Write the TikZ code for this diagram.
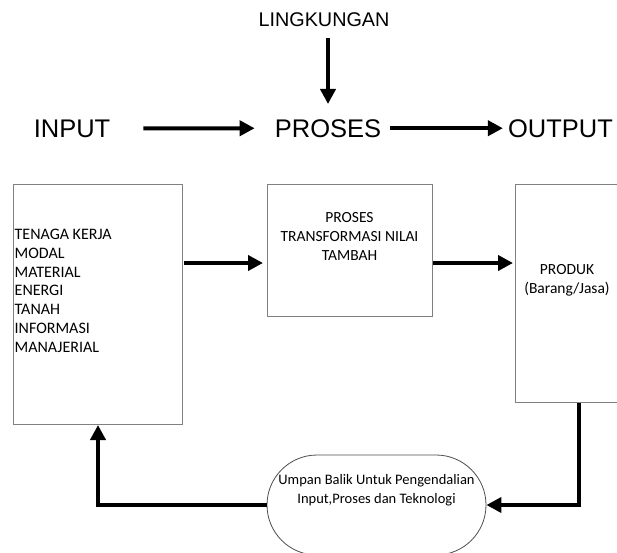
\documentclass[tikz,border=0pt]{standalone}
\usepackage{fontspec}
\setmainfont{Carlito}
\newfontfamily\arialfont{Liberation Sans}
\usetikzlibrary{arrows.meta}

\begin{document}
\begin{tikzpicture}[x=1pt, y=-1pt,
        box/.style={draw=black!50, line width=1pt, rectangle, inner sep=0pt, anchor=north west},
        bigarrow/.style={line width=4pt, -{Triangle[length=15pt,width=15pt]}},
        title/.style={font=\arialfont\fontsize{25.5}{30}\selectfont, inner sep=0pt, anchor=base},
        boxtext/.style={font=\fontsize{15.5}{18.9}\selectfont, inner sep=0pt}]
                    % Parameters
                    \def\topline{137} % Baseline of the top row
                    \def\boxtop{184} % Top edge of the three boxes
                    \def\flowy{263} % Height of the arrows between the boxes

                    \useasboundingbox (0,0) rectangle (617,552);
                    \clip (0,0) rectangle (617,552);

                    % Top row
                    \node[title] (input) at (72,\topline) {INPUT};
                    \node[title] (proses) at (328,\topline) {PROSES};
                    \node[title] (output) at (560.5,\topline) {OUTPUT};
                    \node[title, font=\arialfont\fontsize{19.8}{24}\selectfont] (lingk) at (324,26) {LINGKUNGAN};

                    \draw[bigarrow, shorten <=33pt, shorten >=20pt] (input.east) -- (proses.west);
                    \draw[bigarrow, shorten <=9pt, shorten >=5pt] (proses.east) -- (output.west);
                    \draw[bigarrow, shorten <=12pt, shorten >=15pt] (proses.north |- lingk.south) -- (proses.north);

                    % Draw the boxes
                    \node[box, minimum width=169, minimum height=240] (inbox) at (13,\boxtop) {};
                    \node[box, minimum width=165, minimum height=132] (midbox) at (267,\boxtop) {};
                    \node[box, minimum width=126, minimum height=218] (outbox) at (515,\boxtop) {};

                    % Texts of the boxes
                    \node[boxtext, font=\fontsize{16}{18.8}\selectfont, anchor=north west, align=left] (intext) at (14.5,229) {TENAGA KERJA\\MODAL\\MATERIAL\\ENERGI\\TANAH\\INFORMASI\\MANAJERIAL};
                    \node[boxtext, anchor=north, align=center] (midtext) at (349.5,212) {PROSES\\TRANSFORMASI NILAI\\TAMBAH};
                    \node[boxtext, anchor=north, align=center] (outtext) at (567,264) {PRODUK\\(Barang/Jasa)};

                    % Arrows between the boxes
                    \coordinate (flow) at (0,\flowy);
                    \draw[bigarrow, shorten <=1pt, shorten >=4pt] (inbox.east |- flow) -- (midbox.west |- flow);
                    \draw[bigarrow, shorten >=2pt] (midbox.east |- flow) -- (outbox.west |- flow);

                    % Feedback
                    \node[draw=black!70, line width=0.8pt, rounded corners=50pt, minimum width=219, minimum height=100, inner sep=0pt] (feedback) at (376.5,505) {};
                    \node[boxtext, font=\fontsize{14.5}{18.3}\selectfont, anchor=north, align=center] (fbtext) at (376.5,474.5) {Umpan Balik Untuk Pengendalian\\Input,Proses dan Teknologi};

                    \draw[bigarrow] (outbox.south) |- (feedback.east);
                    \draw[bigarrow] (feedback.west) -| (inbox.south);
                \end{tikzpicture}
\end{document}
